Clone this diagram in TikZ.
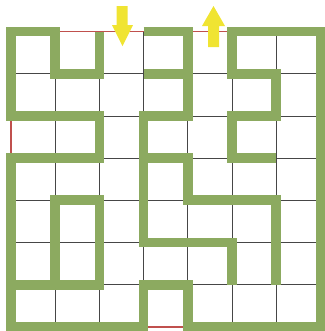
\documentclass[tikz,border=0pt]{standalone}
\usepackage{tikz}
\definecolor{mzgreen}{RGB}{140,170,96}
\definecolor{mzyellow}{RGB}{240,228,50}
\definecolor{mzred}{RGB}{192,80,77}
\definecolor{mzgray}{RGB}{70,70,70}
\tikzset{
  wall/.style={draw=mzgreen, line width=2.9mm, line join=miter},
  gridline/.style={draw=mzgray, line width=0.6pt},
  opening/.style={draw=mzred, line width=1.1pt},
  marker/.style={fill=mzyellow, draw=none},
}

\begin{document}
\begin{tikzpicture}[x=0.3mm, y=-0.3mm]
\useasboundingbox (0,0) rectangle (324,331);

% ================= maze, one unit per cell =================
\begin{scope}[shift={(11,31.5)}, x=13.26mm, y=-12.66mm]
  \foreach \k in {0,...,7} {
    \draw[gridline] (\k,0) -- (\k,7);
    \draw[gridline] (0,\k) -- (7,\k);
  }
  % openings in the outer border
  \draw[opening] (1,0) -- (3,0);
  \draw[opening] (4,0) -- (5,0);
  \draw[opening] (0,2) -- (0,3);
  \draw[opening] (3,7) -- (4,7);

  % outer wall with its attached pieces
  \draw[wall] (2,0) -- (2,1) -- (1,1) -- (1,0) -- (0,0) -- (0,2) -- (2,2) -- (2,3)
    -- (0,3) -- (0,7) -- (3,7) -- (3,6) -- (4,6) -- (4,7) -- (7,7) -- (7,0)
    -- (5,0) -- (5,1) -- (6,1) -- (6,2) -- (5,2) -- (5,3) -- (6,3);
  % inner walls
  \draw[wall] (3,0) -- (4,0) -- (4,2) -- (3,2) -- (3,5) -- (5,5) -- (5,6);
  \draw[wall] (3,1) -- (4,1);
  \draw[wall] (3,3) -- (4,3) -- (4,4) -- (6,4) -- (6,6);
  \draw[wall] (0,6) -- (2,6) -- (2,4) -- (1,4) -- (1,6);
\end{scope}

% ================= in / out markers =================
\fill[marker] (116.5,6) -- (127.5,6) -- (127.5,25) -- (133,25) -- (122.5,46)
  -- (112,25) -- (116.5,25) -- cycle;
\fill[marker] (213.5,6) -- (225,26) -- (219,26) -- (219,47) -- (208,47)
  -- (208,26) -- (202,26) -- cycle;

\end{tikzpicture}
\end{document}
